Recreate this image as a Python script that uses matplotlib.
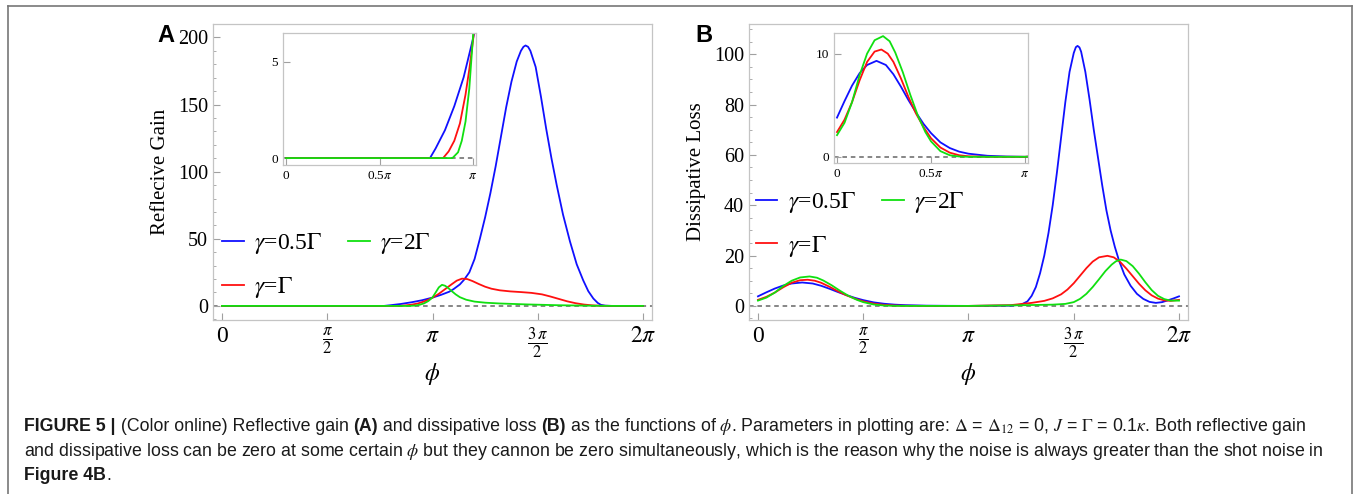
import numpy as np
import matplotlib
matplotlib.use('Agg')
import matplotlib.pyplot as plt
from matplotlib.lines import Line2D

plt.rcParams['mathtext.fontset'] = 'stix'
plt.rcParams['font.family'] = ['Liberation Serif', 'DejaVu Serif']

# phi values are in units of pi
# (A) reflective gain
gain_blue_x = [0, 0.70, 0.77, 0.80, 0.85, 0.90, 0.95, 1.00, 1.04, 1.08, 1.10, 1.13, 1.15, 1.175, 1.20,
               1.225, 1.25, 1.275, 1.30, 1.325, 1.35, 1.375, 1.40, 1.42, 1.432, 1.442, 1.454, 1.465,
               1.49, 1.515, 1.54, 1.565, 1.59, 1.62, 1.653, 1.685, 1.716, 1.74, 1.764, 1.785, 1.80,
               1.82, 1.85, 2.0]
gain_blue_y = [0, 0, 0, 0.5, 1.45, 2.7, 4.2, 6.2, 8.2, 10.6, 12.5, 16, 19.5, 25, 35,
               50, 66, 84, 104, 126, 148, 167, 182, 190, 193, 194, 193, 190,
               178, 156, 132, 110, 90, 68, 48, 31, 19, 11, 5.5, 2.2, 0.8,
               0.2, 0, 0]
gain_red_x = [0, 0.84, 0.87, 0.90, 0.93, 0.96, 0.98, 1.00, 1.03, 1.06, 1.09, 1.115, 1.14, 1.165,
              1.19, 1.22, 1.25, 1.28, 1.32, 1.37, 1.42, 1.47, 1.52, 1.56, 1.60, 1.64, 1.68, 1.72,
              1.76, 1.80, 1.85, 2.0]
gain_red_y = [0, 0, 0.35, 0.9, 1.8, 3.3, 4.6, 6.1, 9, 12.5, 16, 18.8, 20.3, 20,
              18.5, 16.3, 14.3, 12.8, 11.6, 10.8, 10.3, 9.7, 8.6, 7.0, 5.2, 3.4, 2.0, 1.0,
              0.4, 0.1, 0, 0]
gain_green_x = [0, 0.89, 0.92, 0.94, 0.96, 0.98, 1.00, 1.015, 1.03, 1.045, 1.06, 1.075, 1.09, 1.11,
                1.13, 1.16, 1.20, 1.25, 1.32, 1.45, 1.60, 1.75, 1.85, 2.0]
gain_green_y = [0, 0, 0.3, 0.9, 1.9, 3.6, 6.3, 10, 13.8, 15.7, 15.0, 13.3, 11.2, 8.6,
                6.5, 4.6, 3.2, 2.4, 1.8, 1.1, 0.5, 0.15, 0, 0]

# (B) dissipative loss
loss_blue_x = [0, 0.04, 0.08, 0.12, 0.16, 0.21, 0.26, 0.30, 0.34, 0.38, 0.42, 0.46, 0.50, 0.55, 0.60,
               0.65, 0.70, 0.80, 0.90, 1.0, 1.2, 1.25, 1.28, 1.30, 1.32, 1.34, 1.36, 1.38, 1.40,
               1.42, 1.44, 1.46, 1.48, 1.50, 1.51, 1.518, 1.527, 1.535, 1.555, 1.575, 1.595, 1.615,
               1.635, 1.655, 1.675, 1.695, 1.715, 1.74, 1.77, 1.80, 1.83, 1.86, 1.89, 1.92, 1.95,
               1.975, 2.0]
loss_blue_y = [3.8, 5.4, 6.9, 8.1, 8.9, 9.3, 8.9, 8.0, 6.8, 5.5, 4.3, 3.2, 2.3, 1.4, 0.85,
               0.5, 0.3, 0.1, 0.03, 0, 0.1, 0.5, 1.8, 4, 7.5, 13, 20, 29, 40,
               53, 67, 81, 93, 100.5, 102.8, 103.3, 102.7, 101, 93, 82, 70, 59,
               48, 38, 30, 23.5, 18, 12.5, 8, 4.8, 2.8, 1.6, 1.2, 1.5, 2.3,
               3.0, 3.8]
loss_red_x = [0, 0.04, 0.08, 0.12, 0.16, 0.20, 0.236, 0.27, 0.30, 0.34, 0.38, 0.42, 0.46, 0.50, 0.55,
              0.60, 0.65, 0.70, 0.80, 1.0, 1.2, 1.30, 1.36, 1.40, 1.44, 1.47, 1.50, 1.53, 1.56,
              1.59, 1.62, 1.66, 1.69, 1.72, 1.75, 1.78, 1.81, 1.84, 1.87, 1.90, 1.93, 1.96, 2.0]
loss_red_y = [2.4, 3.6, 5.3, 7.4, 9.2, 10.2, 10.4, 10.0, 9.2, 7.6, 5.8, 4.2, 2.9, 1.8, 0.9,
              0.4, 0.15, 0.05, 0, 0, 0.3, 1.2, 2.0, 3.0, 4.6, 6.5, 9.0, 12, 15,
              17.6, 19.3, 19.9, 19.3, 17.5, 14.8, 11.8, 8.8, 6.2, 4.2, 2.9, 2.2, 2.0, 2.4]
loss_green_x = [0, 0.04, 0.08, 0.12, 0.16, 0.20, 0.245, 0.28, 0.31, 0.35, 0.39, 0.43, 0.47, 0.50,
                0.55, 0.60, 0.65, 0.70, 1.0, 1.2, 1.40, 1.46, 1.50, 1.53, 1.56, 1.59, 1.62, 1.65,
                1.68, 1.70, 1.723, 1.75, 1.78, 1.81, 1.84, 1.87, 1.90, 1.93, 1.96, 2.0]
loss_green_y = [2.1, 3.3, 5.3, 7.9, 10.0, 11.3, 11.7, 11.2, 10.1, 8.2, 6.0, 4.0, 2.4, 1.5,
                0.55, 0.15, 0.03, 0, 0, 0.2, 0.5, 0.8, 1.5, 2.8, 4.8, 7.5, 10.6, 13.8,
                16.4, 17.7, 18.4, 17.8, 15.8, 12.8, 9.4, 6.3, 4.0, 2.7, 2.1, 2.1]

labels = [r'$\gamma$=0.5$\Gamma$', r'$\gamma$=$\Gamma$', r'$\gamma$=2$\Gamma$']
colors = ['#1010ff', '#ff1010', '#10e010']

W, H = 1357, 494
fig = plt.figure(figsize=(W / 100, H / 100), dpi=100)


def px_axes(l, t, r, b):
    return fig.add_axes([l / W, 1 - b / H, (r - l) / W, (b - t) / H])


def style(ax, fs, xfs=None):
    for s in ax.spines.values():
        s.set_color('#c4c4c4')
        s.set_linewidth(0.9)
    ax.tick_params(which='both', direction='in', color='#a0a0a0', labelsize=fs, top=False, right=False)
    ax.tick_params(which='major', length=5, width=0.8)
    ax.tick_params(which='minor', length=2.5, width=0.6)
    if xfs:
        ax.tick_params(axis='x', labelsize=xfs, pad=4)


def draw(ax, data, lw):
    ax.axhline(0, color='#666666', lw=1.1, ls=(0, (3, 2.5)), zorder=1)
    lines = []
    for (x, y), c in zip(data, colors):
        ln, = ax.plot(np.array(x) * np.pi, y, color=c, lw=lw, zorder=2)
        lines.append(ln)
    return lines


xt = np.array([0, 0.5, 1, 1.5, 2]) * np.pi
xtl = ['0', r'$\frac{\pi}{2}$', r'$\pi$', r'$\frac{3\,\pi}{2}$', r'$2\pi$']

gain = [(gain_blue_x, gain_blue_y), (gain_red_x, gain_red_y), (gain_green_x, gain_green_y)]
loss = [(loss_blue_x, loss_blue_y), (loss_red_x, loss_red_y), (loss_green_x, loss_green_y)]

# ---------- panel A ----------
axA = px_axes(213, 24, 652, 320)
la = draw(axA, gain, 1.3)
axA.set_xlim(-0.134, 2 * np.pi + 0.134)
axA.set_ylim(-10.5, 210)
axA.set_xticks(xt)
axA.set_xticklabels(xtl)
axA.set_yticks([0, 50, 100, 150, 200])
axA.set_yticks(np.arange(-10, 210, 10), minor=True)
style(axA, 14.5, 17)
axA.set_ylabel('Reflecive Gain', fontsize=15)
axA.yaxis.set_label_coords(-0.098, 0.5)
axA.set_xlabel(r'$\phi$', fontsize=17)
axA.xaxis.set_label_coords(0.5, -0.14)
axA.legend([la[0], la[1], la[2]], labels, ncol=2, frameon=False, fontsize=17,
           loc='lower left', bbox_to_anchor=(0.0, 0.035), handlelength=0.9, handletextpad=0.45,
           labelspacing=0.8, columnspacing=1.1, borderaxespad=0)
fig.text(157 / W, 1 - 36 / H, 'A', fontsize=17, fontweight='bold', family='Liberation Sans',
         va='center', ha='left')

insA = px_axes(283, 33, 476, 165)
draw(insA, gain, 1.3)
insA.set_xlim(-0.016 * np.pi, 1.016 * np.pi)
insA.set_ylim(-0.36, 6.5)
insA.set_xticks([0, 0.5 * np.pi, np.pi])
insA.set_xticklabels(['0', r'0.5$\pi$', r'$\pi$'])
insA.set_yticks([0, 5])
style(insA, 9.5)

# ---------- panel B ----------
axB = px_axes(749, 24, 1188, 320)
lb = draw(axB, loss, 1.3)
axB.set_xlim(-0.134, 2 * np.pi + 0.134)
axB.set_ylim(-5.6, 112)
axB.set_xticks(xt)
axB.set_xticklabels(xtl)
axB.set_yticks([0, 20, 40, 60, 80, 100])
axB.set_yticks(np.arange(-5, 112, 5), minor=True)
style(axB, 14.5, 17)
axB.set_ylabel('Dissipative Loss', fontsize=15)
axB.yaxis.set_label_coords(-0.098, 0.5)
axB.set_xlabel(r'$\phi$', fontsize=17)
axB.xaxis.set_label_coords(0.5, -0.14)
axB.legend([lb[0], lb[1], lb[2]], labels, ncol=2, frameon=False, fontsize=17,
           loc='lower left', bbox_to_anchor=(-0.005, 0.175), handlelength=0.9, handletextpad=0.45,
           labelspacing=0.8, columnspacing=1.1, borderaxespad=0)
fig.text(695 / W, 1 - 35 / H, 'B', fontsize=17, fontweight='bold', family='Liberation Sans',
         va='center', ha='left')

insB = px_axes(834, 33, 1028, 163)
draw(insB, loss, 1.3)
insB.set_xlim(-0.016 * np.pi, 1.016 * np.pi)
insB.set_ylim(-0.6, 12.0)
insB.set_xticks([0, 0.5 * np.pi, np.pi])
insB.set_xticklabels(['0', r'0.5$\pi$', r'$\pi$'])
insB.set_yticks([0, 10])
style(insB, 9.5)

# ---------- frame ----------
for xs, ys in [([8, 8], [494, 6]), ([8, 1352], [6, 6]), ([1352, 1352], [6, 494])]:
    fig.add_artist(Line2D([x / W for x in xs], [1 - y / H for y in ys], color='#777777', lw=1.2))

# ---------- caption ----------
cap_font = ['Liberation Sans', 'DejaVu Sans']
cap_lines = [
    [('FIGURE 5 |', 'bold'), (' (Color online) Reflective gain ', 'normal'), ('(A)', 'bold'),
     (' and dissipative loss ', 'normal'), ('(B)', 'bold'),
     (r' as the functions of $\phi$. Parameters in plotting are: $\Delta$ = $\Delta_{12}$ = 0, '
      r'$J$ = $\Gamma$ = 0.1$\kappa$. Both reflective gain', 'normal')],
    [(r'and dissipative loss can be zero at some certain $\phi$ but they cannon be zero '
      r'simultaneously, which is the reason why the noise is always greater than the shot noise in',
      'normal')],
    [('Figure 4B', 'bold'), ('.', 'normal')],
]
cap_y = [426, 451, 475]
renderer = fig.canvas.get_renderer()
for segs, yy in zip(cap_lines, cap_y):
    x = 24 / W
    for s, wgt in segs:
        t = fig.text(x, 1 - yy / H, s, fontsize=12.8, fontweight=wgt, family=cap_font,
                     va='center', ha='left', color='#1a1a1a')
        bb = t.get_window_extent(renderer)
        x = bb.x1 / W

fig.savefig('out.png', dpi=100)
